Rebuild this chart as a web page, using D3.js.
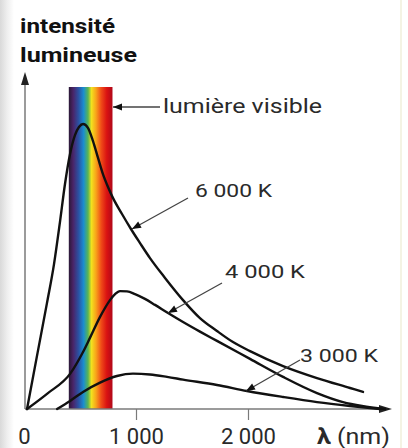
<!DOCTYPE html>
<html>
<head>
<meta charset="utf-8">
<script src="https://cdn.jsdelivr.net/npm/d3@7"></script>
<style>
  html, body { margin: 0; padding: 0; background: #fff; }
  svg { display: block; }
</style>
</head>
<body>
<script>
// ---- data (wavelength in nm, relative intensity) ----
const curve6000 = [
  [27, 0], [116, 17.7], [205, 35.3], [268, 48.3], [321, 62.3], [366, 75], [411, 85],
  [455, 91.3], [491, 94], [527, 95], [571, 93.7], [616, 89.3], [661, 83.7], [705, 78.3],
  [750, 74], [795, 70.3], [875, 65], [955, 60], [1036, 55.3], [1125, 50.3], [1259, 43.7],
  [1420, 36.3], [1571, 30.3], [1723, 26], [1866, 22.3], [2018, 19.3], [2313, 14.3],
  [2616, 10.3], [2911, 7], [3027, 5.7]
];
const curve4000 = [
  [27, 0], [214, 5.3], [411, 11.7], [527, 19], [589, 23.7], [679, 30.7], [768, 36.3],
  [813, 38.3], [857, 39.3], [920, 39.2], [991, 38.3], [1080, 36.7], [1170, 34.7],
  [1286, 32], [1420, 29], [1571, 25.8], [1723, 22.7], [2018, 16.7], [2313, 10.7],
  [2616, 5.3], [2848, 2.3], [3018, 1], [3223, 0]
];
const curve3000 = [
  [295, 0], [411, 2.7], [527, 5.7], [679, 8.8], [830, 11], [973, 11.8], [1125, 11.5],
  [1277, 10.7], [1420, 9.8], [1723, 8], [1991, 6], [2313, 4], [2616, 2.3],
  [2911, 1], [3179, 0]
];
const visibleRange = [400, 790];
const tickValues = [0, 1000, 2000];
const tickLabels = ["0", "1 000", "2 000"];
const curveLabels = ["6 000 K", "4 000 K", "3 000 K"];

// ---- layout ----
const W = 408, H = 448;
const svg = d3.select("body").append("svg").attr("width", W).attr("height", H);
const defs = svg.append("defs");

const x = d3.scaleLinear().domain([0, 3000]).range([24, 360]);
const y = d3.scaleLinear().domain([0, 100]).range([409, 109]);

// left edge shading
const lg = defs.append("linearGradient").attr("id", "edge").attr("x1", 0).attr("x2", 1).attr("y1", 0).attr("y2", 0);
lg.append("stop").attr("offset", 0).attr("stop-color", "#d9d9d9");
lg.append("stop").attr("offset", 0.5).attr("stop-color", "#eeeeee");
lg.append("stop").attr("offset", 1).attr("stop-color", "#ffffff");
svg.append("rect").attr("x", 0).attr("y", 0).attr("width", 14).attr("height", H).attr("fill", "url(#edge)");
svg.append("line").attr("x1", 401).attr("x2", 401).attr("y1", 0).attr("y2", H)
  .attr("stroke", "#f4f3e4").attr("stroke-width", 2);

// spectrum gradient
const sg = defs.append("linearGradient").attr("id", "spec").attr("x1", 0).attr("x2", 1).attr("y1", 0).attr("y2", 0);
[[0, "#2a1836"], [0.1, "#4a2468"], [0.22, "#2c50a2"], [0.34, "#1a8ed0"], [0.44, "#58b454"],
 [0.52, "#f2e11e"], [0.62, "#f8a51a"], [0.74, "#f04c18"], [0.87, "#da1212"], [1, "#b0081a"]]
  .forEach(([o, c]) => sg.append("stop").attr("offset", o).attr("stop-color", c));
svg.append("rect")
  .attr("x", x(visibleRange[0])).attr("y", 87)
  .attr("width", x(visibleRange[1]) - x(visibleRange[0]))
  .attr("height", y(0) - 87)
  .attr("fill", "url(#spec)");

// axes
const axisColor = "#7a7a7a";
svg.append("line").attr("x1", 25).attr("x2", 25).attr("y1", y(0)).attr("y2", 82)
  .attr("stroke", axisColor).attr("stroke-width", 1.5);
svg.append("path").attr("d", "M25,72 L21,85 L29,85 Z").attr("fill", "#222");
svg.append("line").attr("x1", 25).attr("x2", 382).attr("y1", y(0)).attr("y2", y(0))
  .attr("stroke", axisColor).attr("stroke-width", 1.5);
svg.append("path").attr("d", `M392,${y(0)} L379,${y(0) - 4} L379,${y(0) + 4} Z`).attr("fill", "#222");

const xAxis = d3.axisBottom(x).tickValues(tickValues).tickSize(11)
  .tickFormat((d, i) => tickLabels[i]);
const gx = svg.append("g").attr("transform", `translate(0,${y(0)})`).call(xAxis);
gx.select(".domain").remove();
gx.selectAll(".tick line").attr("stroke", axisColor).attr("stroke-width", 1.2)
  .filter(d => d === 0).remove();
gx.selectAll(".tick text")
  .attr("y", 35).attr("dy", 0)
  .attr("font-family", "Roboto, sans-serif").attr("font-size", 22)
  .attr("fill", "#2a2a2a")
  .each(function (d, i) {
    if (i > 0) d3.select(this).attr("textLength", 55).attr("lengthAdjust", "spacingAndGlyphs");
  });

// curves
const line = d3.line().x(d => x(d[0])).y(d => y(d[1])).curve(d3.curveMonotoneX);
[curve6000, curve4000, curve3000].forEach(c => {
  svg.append("path").attr("d", line(c)).attr("fill", "none")
    .attr("stroke", "#111").attr("stroke-width", 2.4).attr("stroke-linecap", "round")
    .attr("stroke-linejoin", "round");
});

// pointer helper
function pointer(x1, y1, x2, y2) {
  svg.append("line").attr("x1", x1).attr("y1", y1).attr("x2", x2).attr("y2", y2)
    .attr("stroke", "#444").attr("stroke-width", 1.3);
  const a = Math.atan2(y2 - y1, x2 - x1), L = 9, w = 3.5;
  const bx = x2 - L * Math.cos(a), by = y2 - L * Math.sin(a);
  const px = -Math.sin(a) * w, py = Math.cos(a) * w;
  svg.append("path").attr("d", `M${x2},${y2} L${bx + px},${by + py} L${bx - px},${by - py} Z`).attr("fill", "#111");
}

const font = "Roboto, sans-serif";
function label(txt, lx, ly, size, len, weight, color) {
  const t = svg.append("text").attr("x", lx).attr("y", ly)
    .attr("font-family", font).attr("font-size", size)
    .attr("font-weight", weight || 400).attr("fill", color || "#2a2a2a").text(txt);
  if (len) t.attr("textLength", len).attr("lengthAdjust", "spacingAndGlyphs");
  return t;
}

// y title
label("intensité", 20, 33, 21, 95, 700, "#111");
label("lumineuse", 20, 62, 21, 117, 700, "#111");

// visible light
pointer(160, 107, 113, 107);
label("lumière visible", 163, 113, 20, 159);

// curve labels
pointer(188, 198, 132, 229);
label(curveLabels[0], 195, 197, 19, 77);
pointer(222, 283, 168, 313);
label(curveLabels[1], 225, 278, 19, 80);
pointer(300, 360, 246, 391);
label(curveLabels[2], 300, 362, 19, 78);

// x unit
const unit = svg.append("text").attr("x", 317).attr("y", 444)
  .attr("font-family", font).attr("font-size", 22).attr("fill", "#2a2a2a")
  .attr("textLength", 73).attr("lengthAdjust", "spacingAndGlyphs");
unit.append("tspan").attr("font-weight", 700).text("λ");
unit.append("tspan").text(" (nm)");
</script>
</body>
</html>
